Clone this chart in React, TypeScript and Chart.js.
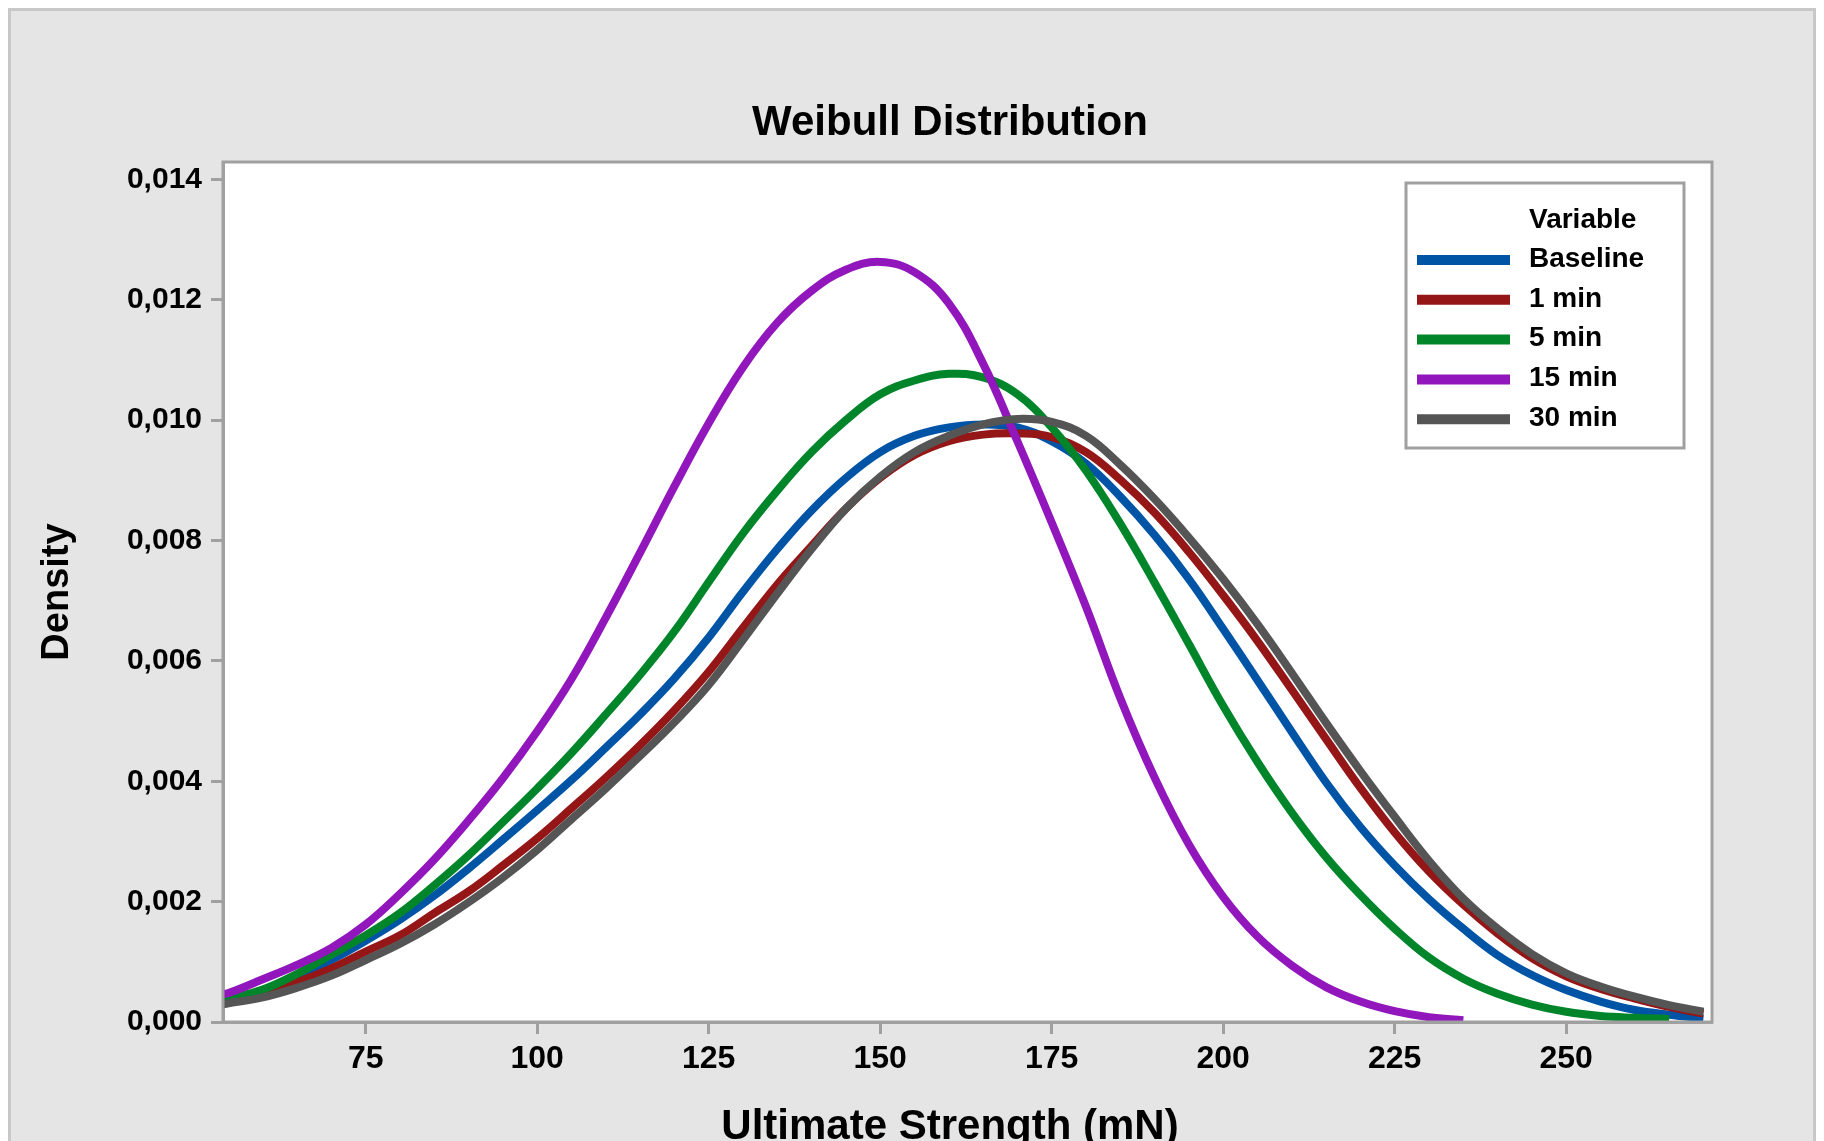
import React, { useEffect, useRef } from "react";
import { Chart, registerables } from "chart.js";

Chart.register(...registerables);

// ---------- data ----------
const strength = [54, 55, 60, 65, 70, 75, 80, 85, 90, 95, 100, 105, 110, 115, 120, 125, 130, 135, 140, 145, 150, 155, 160, 165, 170, 175, 180, 185, 190, 195, 200, 205, 210, 215, 220, 225, 230, 235, 240, 245, 250, 255, 260, 265, 270];

const baseline = [0.00035, 0.00037, 0.00052, 0.00075, 0.00103, 0.00135, 0.0017, 0.0021, 0.00255, 0.00303, 0.00352, 0.00402, 0.00456, 0.00511, 0.00571, 0.00639, 0.00715, 0.00786, 0.0085, 0.00904, 0.00947, 0.00974, 0.00988, 0.00993, 0.00988, 0.00965, 0.00928, 0.00873, 0.00809, 0.00736, 0.00653, 0.00568, 0.00482, 0.00398, 0.00324, 0.0026, 0.00204, 0.00155, 0.00111, 0.00078, 0.00053, 0.00034, 0.0002, 0.00012, 0.00006];

const min1 = [0.00032, 0.00034, 0.00048, 0.00066, 0.00089, 0.00117, 0.00144, 0.00181, 0.00217, 0.0026, 0.00305, 0.00355, 0.00406, 0.0046, 0.00518, 0.00582, 0.00655, 0.00727, 0.00791, 0.00853, 0.00904, 0.00942, 0.00965, 0.00976, 0.00978, 0.00972, 0.00947, 0.00901, 0.00846, 0.00781, 0.00709, 0.00633, 0.00552, 0.0047, 0.00389, 0.00315, 0.0025, 0.00195, 0.00147, 0.00106, 0.00076, 0.00055, 0.00039, 0.00025, 0.00014];

const min5 = [0.00037, 0.00039, 0.00054, 0.0008, 0.00112, 0.00144, 0.00181, 0.00227, 0.00277, 0.00332, 0.00388, 0.00447, 0.00511, 0.00577, 0.00649, 0.00731, 0.00812, 0.00883, 0.00947, 0.01, 0.01043, 0.01066, 0.01077, 0.01071, 0.01043, 0.00988, 0.00916, 0.00828, 0.0073, 0.00628, 0.00525, 0.00432, 0.00348, 0.00274, 0.00211, 0.00155, 0.00107, 0.00072, 0.00047, 0.00029, 0.00017, 0.0001, 0.00007, 0.00005, null];

const min15 = [0.00046, 0.00048, 0.00071, 0.00095, 0.00123, 0.00162, 0.00213, 0.0027, 0.00335, 0.00405, 0.00483, 0.0057, 0.00672, 0.0078, 0.0089, 0.00995, 0.01088, 0.01162, 0.01215, 0.0125, 0.01263, 0.01246, 0.01194, 0.01094, 0.00965, 0.0083, 0.0069, 0.00538, 0.00406, 0.00295, 0.00208, 0.00142, 0.00094, 0.00058, 0.00034, 0.00018, 0.00008, 0.00003, null, null, null, null, null, null, null];

const min30 = [0.00029, 0.00031, 0.00041, 0.00057, 0.00077, 0.00103, 0.0013, 0.00162, 0.00199, 0.0024, 0.00286, 0.00337, 0.00388, 0.00442, 0.00498, 0.0056, 0.00635, 0.00712, 0.00786, 0.00853, 0.00906, 0.00947, 0.00974, 0.00993, 0.01002, 0.00997, 0.00974, 0.00926, 0.00869, 0.00805, 0.00736, 0.00661, 0.0058, 0.00497, 0.00417, 0.00341, 0.00268, 0.00205, 0.00155, 0.00113, 0.00081, 0.00059, 0.00042, 0.00028, 0.00017];

const seriesLabels = ["Baseline", "1 min", "5 min", "15 min", "30 min"];
const seriesColors = ["#0054A6", "#941616", "#00852A", "#9116BC", "#555555"];
const seriesValues = [baseline, min1, min5, min15, min30];

const strengthTicks = [75, 100, 125, 150, 175, 200, 225, 250];
const densityTicks = [0, 0.002, 0.004, 0.006, 0.008, 0.01, 0.012, 0.014];

const chartTitle = "Weibull Distribution";
const xTitle = "Ultimate Strength (mN)";
const yTitle = "Density";
const legendTitle = "Variable";

const FONT = "'Liberation Sans', Arial, Helvetica, sans-serif";
const AXIS_GRAY = "#a0a0a0";

export default function App() {
  const canvasRef = useRef<HTMLCanvasElement | null>(null);

  useEffect(() => {
    document.documentElement.style.overflow = "hidden";
    document.body.style.overflow = "hidden";
    const canvas = canvasRef.current;
    if (!canvas) return;

    const plotFrame = {
      id: "plotFrame",
      beforeDraw(chart: any) {
        const { ctx, chartArea: a } = chart;
        ctx.save();
        ctx.fillStyle = "#ffffff";
        ctx.fillRect(a.left, a.top, a.right - a.left, a.bottom - a.top);
        ctx.restore();
      },
      afterDatasetsDraw(chart: any) {
        const { ctx, chartArea: a } = chart;
        ctx.save();
        ctx.strokeStyle = AXIS_GRAY;
        ctx.lineWidth = 3;
        ctx.strokeRect(a.left, a.top, a.right - a.left, a.bottom - a.top);
        ctx.restore();
      },
      afterDraw(chart: any) {
        const { ctx, chartArea: a } = chart;
        ctx.save();
        // main title
        ctx.fillStyle = "#000";
        ctx.font = `bold 42px ${FONT}`;
        ctx.textAlign = "center";
        ctx.textBaseline = "alphabetic";
        ctx.fillText(chartTitle, 939, 124);
        // x axis title
        ctx.textBaseline = "middle";
        ctx.fillText(xTitle, 939, 1116);

        // legend
        const bx = a.right - 306;
        const by = a.top + 21;
        const bw = 278;
        const bh = 265;
        ctx.fillStyle = "#ffffff";
        ctx.fillRect(bx, by, bw, bh);
        ctx.strokeStyle = AXIS_GRAY;
        ctx.lineWidth = 3;
        ctx.strokeRect(bx, by, bw, bh);
        ctx.fillStyle = "#000";
        ctx.font = `bold 28px ${FONT}`;
        ctx.textAlign = "left";
        ctx.textBaseline = "alphabetic";
        ctx.fillText(legendTitle, bx + 123, by + 45);
        chart.data.datasets.forEach((ds: any, i: number) => {
          const y = by + 77 + i * 39.8;
          ctx.strokeStyle = ds.borderColor;
          ctx.lineWidth = 10;
          ctx.lineCap = "butt";
          ctx.beginPath();
          ctx.moveTo(bx + 11, y);
          ctx.lineTo(bx + 104, y);
          ctx.stroke();
          ctx.fillStyle = "#000";
          ctx.textBaseline = "middle";
          ctx.fillText(ds.label, bx + 123, y - 1);
        });
        ctx.restore();
      },
    };

    const datasets = seriesLabels.map((label, i) => ({
      label,
      data: strength.map((x, j) => ({ x, y: seriesValues[i][j] })),
      borderColor: seriesColors[i],
      backgroundColor: seriesColors[i],
      borderWidth: 8,
      pointRadius: 0,
      fill: false,
      tension: 0.4,
      spanGaps: false,
      clip: 0,
      order: seriesLabels.length - i,
    }));

    const tickFontY = { family: FONT, size: 30, weight: "bold" as const };
    const tickFontX = { family: FONT, size: 32, weight: "bold" as const };

    const chart = new Chart(canvas, {
      type: "line",
      data: { datasets },
      options: {
        animation: false,
        responsive: false,
        events: [],
        layout: { padding: { left: 0, right: 101, top: 151, bottom: 0 } },
        plugins: {
          legend: { display: false },
          tooltip: { enabled: false },
          title: { display: false },
        },
        scales: {
          x: {
            type: "linear",
            min: 54.2,
            max: 271.25,
            afterBuildTicks: (s: any) => {
              s.ticks = strengthTicks.map((v) => ({ value: v }));
            },
            afterFit: (s: any) => {
              s.height = 189;
            },
            grid: {
              drawOnChartArea: false,
              drawTicks: true,
              tickLength: 12,
              tickWidth: 3,
              tickColor: AXIS_GRAY,
            },
            border: { display: true, color: AXIS_GRAY, width: 3 },
            ticks: {
              autoSkip: false,
              maxRotation: 0,
              minRotation: 0,
              padding: 6,
              color: "#000",
              font: tickFontX,
              callback: (v: any) => String(v),
            },
          },
          y: {
            type: "linear",
            min: 0,
            max: 0.01429,
            afterBuildTicks: (s: any) => {
              s.ticks = densityTicks.map((v) => ({ value: v }));
            },
            afterFit: (s: any) => {
              s.width = 212;
            },
            grid: {
              drawOnChartArea: false,
              drawTicks: true,
              tickLength: 12,
              tickWidth: 3,
              tickColor: AXIS_GRAY,
            },
            border: { display: true, color: AXIS_GRAY, width: 3 },
            ticks: {
              padding: 9,
              color: "#000",
              font: tickFontY,
              callback: (v: any) => Number(v).toFixed(3).replace(".", ","),
            },
            title: {
              display: true,
              text: yTitle,
              color: "#000",
              font: { family: FONT, size: 38, weight: "bold" },
              padding: { top: 24, bottom: 0 },
            },
          },
        },
      },
      plugins: [plotFrame],
    });

    return () => {
      chart.destroy();
    };
  }, []);

  return (
    <div
      style={{
        background: "#e5e5e5",
        borderTop: "3px solid #c8c8c8",
        borderLeft: "3px solid #c8c8c8",
        borderRight: "3px solid #c8c8c8",
        height: 1200,
        overflow: "hidden",
      }}
    >
      <canvas ref={canvasRef} width={1802} height={1200} style={{ display: "block" }} />
    </div>
  );
}
